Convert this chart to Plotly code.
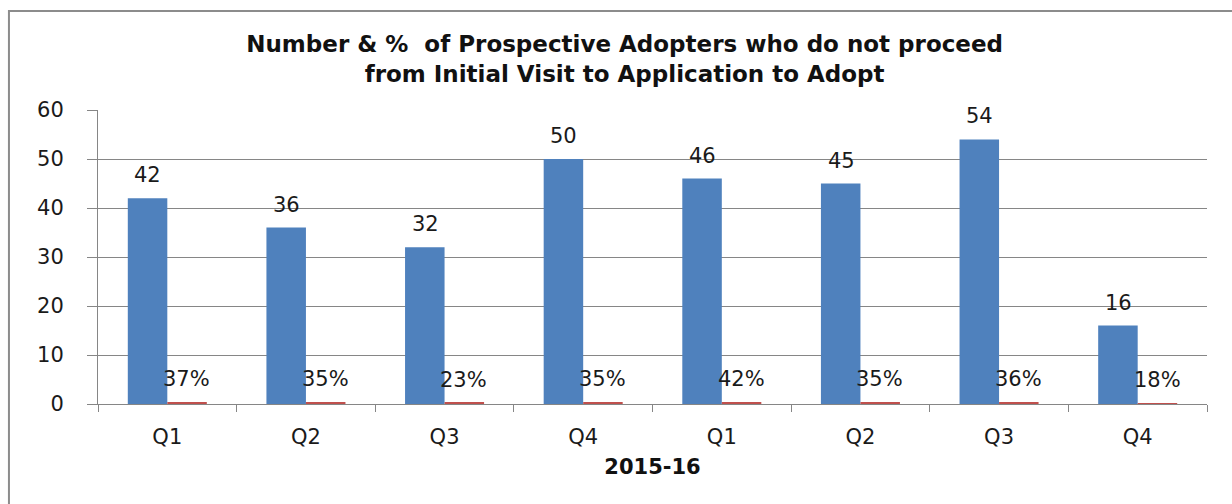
import plotly.graph_objects as go

quarters = ["Q1", "Q2", "Q3", "Q4", "Q1", "Q2", "Q3", "Q4"]
numbers = [42, 36, 32, 50, 46, 45, 54, 16]
percents = [0.37, 0.35, 0.23, 0.35, 0.42, 0.35, 0.36, 0.18]

xpos = list(range(len(quarters)))
label_font = dict(family="DejaVu Sans", size=21, color="#1a1a1a")

fig = go.Figure()
fig.add_trace(go.Bar(x=xpos, y=numbers, marker_color="#4F81BD",
                     marker_line_width=0, name="Number"))
fig.add_trace(go.Bar(x=xpos, y=percents, marker_color="#C0504D",
                     marker_line_width=0, name="%"))

annotations = []
for i, (n, p) in enumerate(zip(numbers, percents)):
    annotations.append(dict(x=i - 0.14, y=n, text=str(n), showarrow=False,
                            xref="x", yref="y", yshift=23, font=label_font))
    annotations.append(dict(x=i + 0.14, y=p, text=f"{round(p * 100)}%",
                            showarrow=False, xref="x", yref="y", yshift=23,
                            font=label_font))

fig.update_layout(
    width=1232, height=504,
    margin=dict(l=98, r=25, t=110, b=100),
    paper_bgcolor="white", plot_bgcolor="white",
    showlegend=False,
    barmode="group", bargap=0.43, bargroupgap=0,
    title=dict(text="Number & %  of Prospective Adopters who do not proceed<br>from Initial Visit to Application to Adopt",
               x=0.507, xanchor="center", y=0.896, yanchor="middle",
               font=dict(family="DejaVu Sans", size=23, color="#111111", weight="bold")),
    annotations=annotations,
    shapes=[dict(type="rect", xref="paper", yref="paper",
                 x0=-0.0803, x1=1.05, y0=-0.5, y1=1.337,
                 line=dict(color="#8c8c8c", width=2), fillcolor="rgba(0,0,0,0)",
                 layer="below")],
)

fig.update_xaxes(
    range=[-0.5, 7.5], tickvals=xpos, ticktext=quarters,
    ticks="", showline=True, linecolor="#868686", linewidth=1,
    tickfont=dict(family="DejaVu Sans", size=21, color="#1a1a1a"),
    ticklabelstandoff=14,
    minor=dict(tickvals=[i - 0.5 for i in range(9)], ticks="outside",
               ticklen=7, tickcolor="#868686", showgrid=False),
    title=dict(text="2015-16", standoff=11,
               font=dict(family="DejaVu Sans", size=21, color="#111111", weight="bold")),
    showgrid=False, zeroline=False,
)
fig.update_yaxes(
    range=[0, 60], dtick=10, showgrid=True, gridcolor="#868686", gridwidth=1,
    showline=True, linecolor="#868686", linewidth=1,
    ticks="outside", ticklen=10, tickcolor="#868686",
    tickfont=dict(family="DejaVu Sans", size=21, color="#1a1a1a"),
    ticklabelstandoff=19,
    zeroline=False,
)

fig.write_html("out.html")
